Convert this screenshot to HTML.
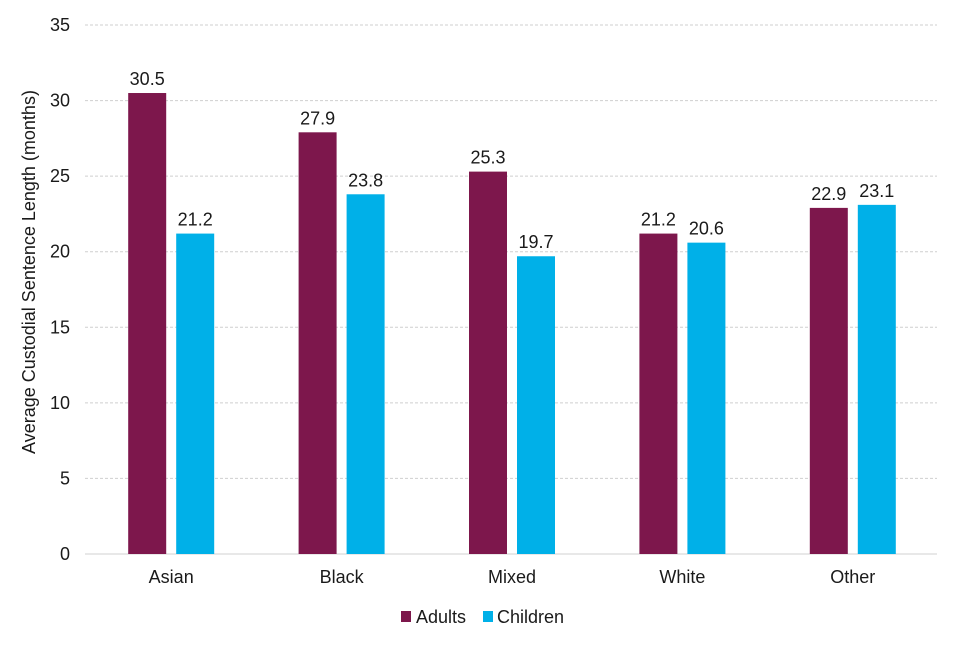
<!DOCTYPE html>
<html><head><meta charset="utf-8"><style>
html,body{margin:0;padding:0;background:#fff;}
svg text{font-family:"Liberation Sans",Arial,sans-serif;fill:#1a1a1a;}
</style></head><body>
<svg id="chart" width="960" height="640" viewBox="0 0 960 640">
<g id="grid"></g>
<g id="yticks"></g>
<g id="bars"></g>
<g id="xlabels"></g>
<text transform="translate(35,272) rotate(-90)" text-anchor="middle" font-size="18">Average Custodial Sentence Length (months)</text>
<g>
<g><rect x="401" y="611" width="10" height="11" fill="#7D174C"/><text x="416" y="623" font-size="18">Adults</text></g>
<g><rect x="483" y="611" width="10" height="11" fill="#00B0E8"/><text x="497" y="623" font-size="18">Children</text></g>
</g>
</svg>
<script>
const categories = ["Asian","Black","Mixed","White","Other"];
const adults = [30.5,27.9,25.3,21.2,22.9];
const children = [21.2,23.8,19.7,20.6,23.1];
const yTicks = [0,5,10,15,20,25,30,35];

const NS="http://www.w3.org/2000/svg";
const left=85,right=937,y0=554,y35=25,yMax=35;
const yScale=v=>y0-(y0-y35)*v/yMax;
const band=(right-left)/categories.length;
const xCenter=i=>left+band*(i+0.5);
const barW=38,gap=10;
function mk(tag,attrs,parent){const e=document.createElementNS(NS,tag);for(const k in attrs)e.setAttribute(k,attrs[k]);parent.appendChild(e);return e;}
const grid=document.getElementById('grid'),yt=document.getElementById('yticks'),bars=document.getElementById('bars'),xl=document.getElementById('xlabels');
yTicks.forEach(t=>{
  const y=yScale(t);
  const l=mk('line',{x1:left,x2:right,y1:y,y2:y,stroke:t===0?'#d0d0d0':'#cfcfcf','stroke-width':1,'stroke-dasharray':t===0?'none':'3,2'},grid);
  
  
  const tx=mk('text',{x:70,y:y+6,'text-anchor':'end','font-size':18},yt);
  tx.textContent=t;
  
  
});
categories.forEach((c,i)=>{
  const cx=xCenter(i)+1;
  [[adults,'#7D174C',cx-gap/2-barW,'adults'],[children,'#00B0E8',cx+gap/2,'children']].forEach(([arr,col,x,nm])=>{
    const v=arr[i],y=yScale(v);
    const r=mk('rect',{x:x,y:y,width:barW,height:y0-y,fill:col},bars);
    
    
    const t=mk('text',{x:x+barW/2,y:y-8,'text-anchor':'middle','font-size':18},bars);
    t.textContent=v.toFixed(1);
    
    
  });
  const lab=mk('text',{x:cx,y:583,'text-anchor':'middle','font-size':18},xl);
  lab.textContent=c;
  
  
});
</script>
</body></html>
